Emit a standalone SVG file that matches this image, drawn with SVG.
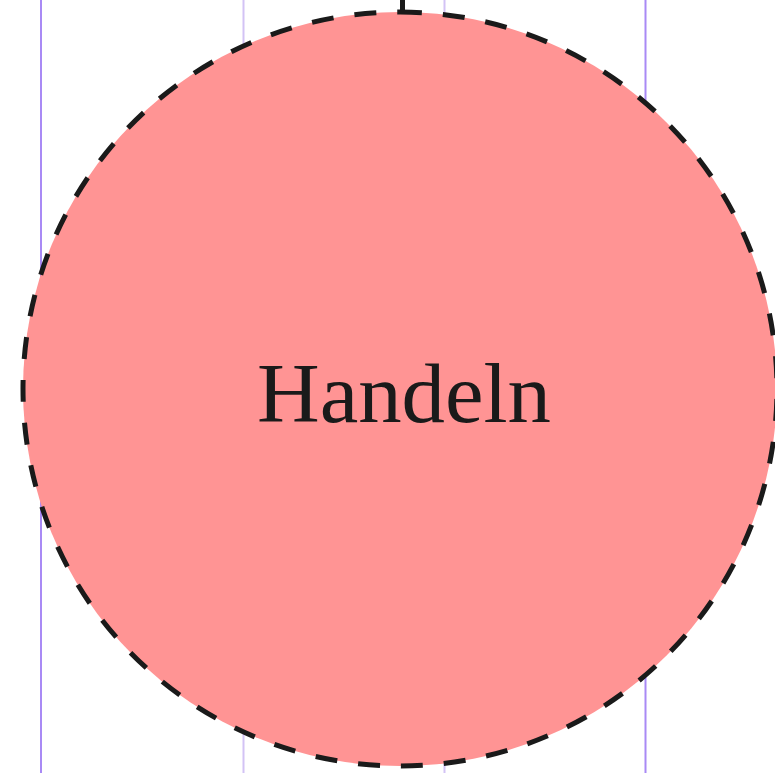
<svg xmlns="http://www.w3.org/2000/svg" width="775" height="773" viewBox="0 0 775 773">
<style>
.guide{stroke-width:2;fill:none}
.g1{stroke:#a98af5}
.g2{stroke:#d3c3f5}
.node{fill:#ff9494;stroke:#1a1a1a;stroke-width:5;stroke-dasharray:22 21}
.label{font-family:"Liberation Serif","DejaVu Serif",serif;font-size:84px;fill:#1a1a1a;text-anchor:middle}
</style>
<rect width="775" height="773" fill="#ffffff"/>
<g id="guides">
<line class="guide g1" x1="41" y1="0" x2="41" y2="773"/>
<line class="guide g2" x1="243.5" y1="0" x2="243.5" y2="773"/>
<line class="guide g2" x1="444.5" y1="0" x2="444.5" y2="773"/>
<line class="guide g1" x1="645.5" y1="0" x2="645.5" y2="773"/>
</g>
<g id="connectors">
<line x1="402.5" y1="0" x2="402.5" y2="12" stroke="#1a1a1a" stroke-width="5"/>
</g>
<g id="node-handeln">
<circle class="node" cx="400" cy="389" r="377" transform="rotate(-90 400 389)"/>
<text class="label" x="404" y="422" textLength="294" lengthAdjust="spacingAndGlyphs">Handeln</text>
</g>
</svg>
